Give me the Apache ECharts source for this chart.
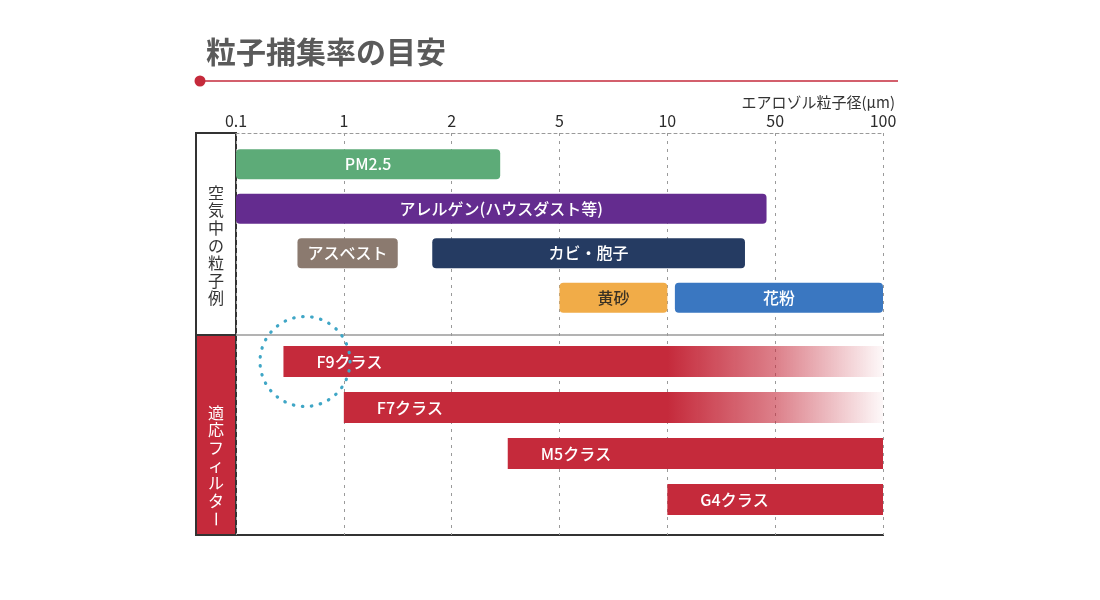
<!DOCTYPE html>
<html>
<head>
<meta charset="utf-8">
<script src="https://cdn.jsdelivr.net/npm/echarts@6/dist/echarts.min.js"></script>
<style>
  html, body { margin: 0; padding: 0; background: #fff; }
  #chart { width: 1100px; height: 600px; }
</style>
</head>
<body>
<div id="chart"></div>
<script>
// tick labels on the top axis (equally spaced, index 0..6)
var tickLabels = ['0.1', '1', '2', '5', '10', '50', '100']

// particle examples, from / to in tick-index units
var particleNames = ['PM2.5', 'アレルゲン(ハウスダスト等)', 'アスベスト', 'カビ・胞子', '黄砂', '花粉']
var particleRow = [0, 1, 2, 2, 3, 3]
var particleFrom = [0, 0, 0.57, 1.82, 3, 4.07]
var particleTo = [2.45, 4.92, 1.5, 4.72, 4, 6]

// filter classes
var filterNames = ['F9クラス', 'F7クラス', 'M5クラス', 'G4クラス']
var filterFrom = [0.44, 1, 2.52, 4]
var filterTo = [6, 6, 6, 6]
var filterFadeFrom = [4, 4, null, null]

// dotted circle around F9 start
var circleMark = [[0.64, 0]]

var particleColors = ['#5dab78', '#642c8f', '#8b7a6f', '#253b62', '#f1ac48', '#3a77c1']
var particleTextColors = ['#fff', '#fff', '#fff', '#fff', '#3b3224', '#fff']
var red = '#c52a3b'
var font = '"Noto Sans CJK JP", "Noto Sans", sans-serif'

var chart = echarts.init(document.getElementById('chart'))

function hiddenX(gridIndex) {
  return { type: 'value', gridIndex: gridIndex, min: 0, max: 6, show: false }
}

var option = {
  animation: false,
  textStyle: { fontFamily: font },
  grid: [
    { left: 236, right: 217, top: 133, bottom: 65 },
    { left: 236, right: 217, top: 142, height: 178 },
    { left: 236, right: 217, top: 338.5, height: 184 }
  ],
  xAxis: [
    {
      type: 'value',
      gridIndex: 0,
      min: 0,
      max: 6,
      interval: 1,
      position: 'top',
      name: 'エアロゾル粒子径(μm)',
      nameLocation: 'end',
      nameGap: 12,
      nameTextStyle: {
        color: '#333',
        fontSize: 15,
        align: 'right',
        verticalAlign: 'bottom',
        padding: [0, 0, 23, 0]
      },
      axisLine: { show: true, onZero: false, lineStyle: { color: '#9a9a9a', type: [3, 3], width: 1 } },
      axisTick: { show: false },
      axisLabel: {
        margin: 4,
        color: '#2b2b2b',
        fontSize: 16,
        formatter: function (v) { return tickLabels[v] }
      },
      splitLine: { show: true, lineStyle: { color: '#9a9a9a', type: [3, 5], width: 1 } }
    },
    hiddenX(1),
    hiddenX(2)
  ],
  yAxis: [
    { type: 'value', gridIndex: 0, min: 0, max: 1, show: false },
    { type: 'category', gridIndex: 1, inverse: true, data: [0, 1, 2, 3], show: false },
    { type: 'category', gridIndex: 2, inverse: true, data: filterNames, show: false }
  ],
  graphic: [
    {
      type: 'text', left: 206, top: 37,
      style: { text: '粒子捕集率の目安', fill: '#5a5a5a', font: 'bold 30px ' + font }
    },
    { type: 'line', shape: { x1: 200, y1: 81, x2: 898, y2: 81 }, style: { stroke: red, lineWidth: 1.5 } },
    { type: 'circle', shape: { cx: 200, cy: 81, r: 5.5 }, style: { fill: red } },
    { type: 'line', shape: { x1: 236, y1: 335, x2: 883, y2: 335 }, style: { stroke: '#9a9a9a', lineWidth: 1.5 }, z: 1 },
    { type: 'rect', shape: { x: 196, y: 133, width: 40, height: 202 }, style: { fill: '#fff', stroke: '#333', lineWidth: 2 } },
    { type: 'rect', shape: { x: 196, y: 335, width: 40, height: 200 }, style: { fill: red, stroke: '#333', lineWidth: 2 } },
    { type: 'line', shape: { x1: 196, y1: 535, x2: 884, y2: 535 }, style: { stroke: '#333', lineWidth: 2 } },
    {
      type: 'text', x: 216, y: 184,
      style: { text: '空\n気\n中\nの\n粒\n子\n例', font: '16px ' + font, fill: '#333', align: 'center', lineHeight: 17.6 }
    },
    {
      type: 'text', x: 216, y: 404,
      style: { text: '適\n応\nフ\nィ\nル\nタ', font: '16px ' + font, fill: '#fff', align: 'center', lineHeight: 17.6 }
    },
    {
      type: 'text', x: 216, y: 519, rotation: -Math.PI / 2,
      style: { text: 'ー', font: '16px ' + font, fill: '#fff', align: 'center', verticalAlign: 'middle' }
    }
  ],
  series: [
    {
      type: 'custom',
      name: 'particles',
      xAxisIndex: 1,
      yAxisIndex: 1,
      z: 3,
      data: particleNames.map(function (n, i) { return [particleFrom[i], particleTo[i], particleRow[i]] }),
      renderItem: function (params, api) {
        var i = params.dataIndex
        var s = api.coord([api.value(0), api.value(2)])
        var e = api.coord([api.value(1), api.value(2)])
        var h = 30
        return {
          type: 'group',
          children: [
            {
              type: 'rect',
              shape: { x: s[0], y: s[1] - h / 2, width: e[0] - s[0], height: h, r: 4 },
              style: { fill: particleColors[i] }
            },
            {
              type: 'text',
              x: (s[0] + e[0]) / 2,
              y: s[1],
              style: {
                text: particleNames[i],
                fill: particleTextColors[i],
                font: '500 16px ' + font,
                align: 'center',
                verticalAlign: 'middle'
              }
            }
          ]
        }
      }
    },
    {
      type: 'custom',
      name: 'filters',
      xAxisIndex: 2,
      yAxisIndex: 2,
      z: 3,
      data: filterNames.map(function (n, i) { return [filterFrom[i], filterTo[i], i, filterFadeFrom[i]] }),
      renderItem: function (params, api) {
        var i = params.dataIndex
        var s = api.coord([api.value(0), api.value(2)])
        var e = api.coord([api.value(1), api.value(2)])
        var h = 31
        var w = e[0] - s[0]
        var fill = red
        if (filterFadeFrom[i] != null) {
          var f = (api.coord([filterFadeFrom[i], 0])[0] - s[0]) / w
          fill = new echarts.graphic.LinearGradient(0, 0, 1, 0, [
            { offset: 0, color: red },
            { offset: f, color: red },
            { offset: (f + 1) / 2, color: 'rgba(197,42,59,0.6)' },
            { offset: 1, color: 'rgba(197,42,59,0.03)' }
          ])
        }
        return {
          type: 'group',
          children: [
            {
              type: 'rect',
              shape: { x: s[0], y: s[1] - h / 2, width: w, height: h },
              style: { fill: fill }
            },
            {
              type: 'text',
              x: s[0] + 33,
              y: s[1],
              style: {
                text: filterNames[i],
                fill: '#fff',
                font: '500 16px ' + font,
                align: 'left',
                verticalAlign: 'middle'
              }
            }
          ]
        }
      }
    },
    {
      type: 'custom',
      name: 'mark',
      xAxisIndex: 2,
      yAxisIndex: 2,
      z: 5,
      data: circleMark,
      renderItem: function (params, api) {
        var c = api.coord([api.value(0), api.value(1)])
        return {
          type: 'circle',
          shape: { cx: c[0], cy: c[1], r: 45 },
          style: { fill: 'none', stroke: '#3fa6c6', lineWidth: 3.2, lineDash: [0.5, 8.6], lineCap: 'round' }
        }
      }
    }
  ]
}
chart.setOption(option)
</script>
</body>
</html>
